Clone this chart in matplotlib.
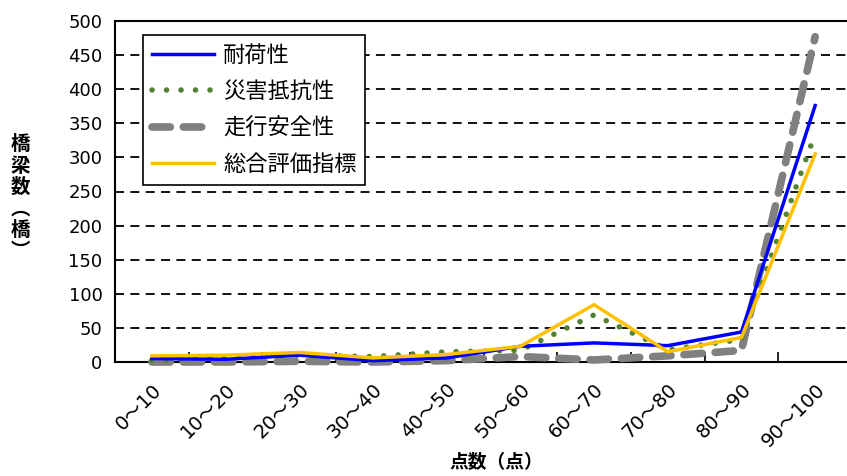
import matplotlib
matplotlib.use("Agg")
import matplotlib.pyplot as plt

plt.rcParams['font.family'] = ['Noto Sans CJK JP', 'DejaVu Sans']

categories = ["0〜10", "10〜20", "20〜30", "30〜40", "40〜50", "50〜60",
              "60〜70", "70〜80", "80〜90", "90〜100"]
load_capacity = [5, 4, 10, 2, 6, 23, 28, 24, 44, 376]        # 耐荷性
disaster_resist = [2, 8, 10, 8, 15, 17, 69, 18, 33, 335]     # 災害抵抗性
running_safety = [0, 0, 1, 0, 2, 8, 3, 9, 17, 477]           # 走行安全性
overall_index = [9, 10, 14, 6, 11, 23, 84, 15, 36, 305]      # 総合評価指標

series_names = ["耐荷性", "災害抵抗性", "走行安全性", "総合評価指標"]
y_ticks = [0, 50, 100, 150, 200, 250, 300, 350, 400, 450, 500]

num_family = ['DejaVu Sans', 'Noto Sans CJK JP']

W, H = 847, 476
fig = plt.figure(figsize=(W / 100, H / 100), dpi=100)
left, right, top, bottom = 115, 852, 21, 362
ax = fig.add_axes([left / W, 1 - bottom / H, (right - left) / W, (bottom - top) / H])

x = list(range(len(categories)))

ax.plot(x, load_capacity, color="#0000FF", lw=2.5, label=series_names[0], zorder=5, clip_on=False)
ax.plot(x, disaster_resist, color="#548235", lw=4, linestyle=(0, (0.01, 2.6)),
        dash_capstyle="round", label=series_names[1], zorder=4, clip_on=False)
ax.plot(x, running_safety, color="#808080", lw=5.5, linestyle=(0, (2.4, 1.7)),
        dash_capstyle="round", label=series_names[2], zorder=3, clip_on=False)
ax.plot(x, overall_index, color="#FFC000", lw=2.5, label=series_names[3], zorder=6, clip_on=False)

ax.set_xlim(-0.5, len(categories) - 0.5)
ax.set_ylim(0, 500)
ax.set_yticks(y_ticks)
ax.set_yticklabels([str(v) for v in y_ticks], fontsize=13, family=num_family)
ax.tick_params(axis='y', length=0, pad=9)

ax.set_xticks(x)
ax.set_xticklabels(categories, fontsize=14, family=num_family, rotation=45,
                   ha='right', rotation_mode='anchor')
ax.tick_params(axis='x', which='major', length=0, pad=13)
ax.set_xticks([i + 0.5 for i in x[:-1]], minor=True)
ax.tick_params(axis='x', which='minor', direction='in', length=7, width=1.2, color='black')

for v in y_ticks[1:-1]:
    ax.axhline(v, color='black', lw=1.3, linestyle=(0, (5, 3.5)), zorder=1)

for s in ['left', 'bottom', 'top']:
    ax.spines[s].set_color('black')
    ax.spines[s].set_linewidth(1.5)
ax.spines['right'].set_visible(False)

leg = ax.legend(loc='upper left', bbox_to_anchor=((143 - left) / (right - left), 1 - (35 - top) / (bottom - top)),
                fontsize=16, frameon=True, fancybox=False, edgecolor='black', framealpha=1,
                handlelength=2.8, borderpad=0.4, labelspacing=0.6, handletextpad=0.4, borderaxespad=0)
leg.get_frame().set_linewidth(1.2)
leg.set_zorder(10)

ax.set_xlabel("点数（点）", fontsize=13.5, fontweight='bold', va='center')
ax.xaxis.set_label_coords((496 - left) / (right - left), -(463 - bottom) / (bottom - top))

fig.text(20 / W, 1 - 198 / H, "\n".join(["橋", "梁", "数", "︵", "橋", "︶"]),
         fontsize=14, fontweight='bold', ha='center', va='center', linespacing=1.15)

fig.savefig("out.png", dpi=100)
